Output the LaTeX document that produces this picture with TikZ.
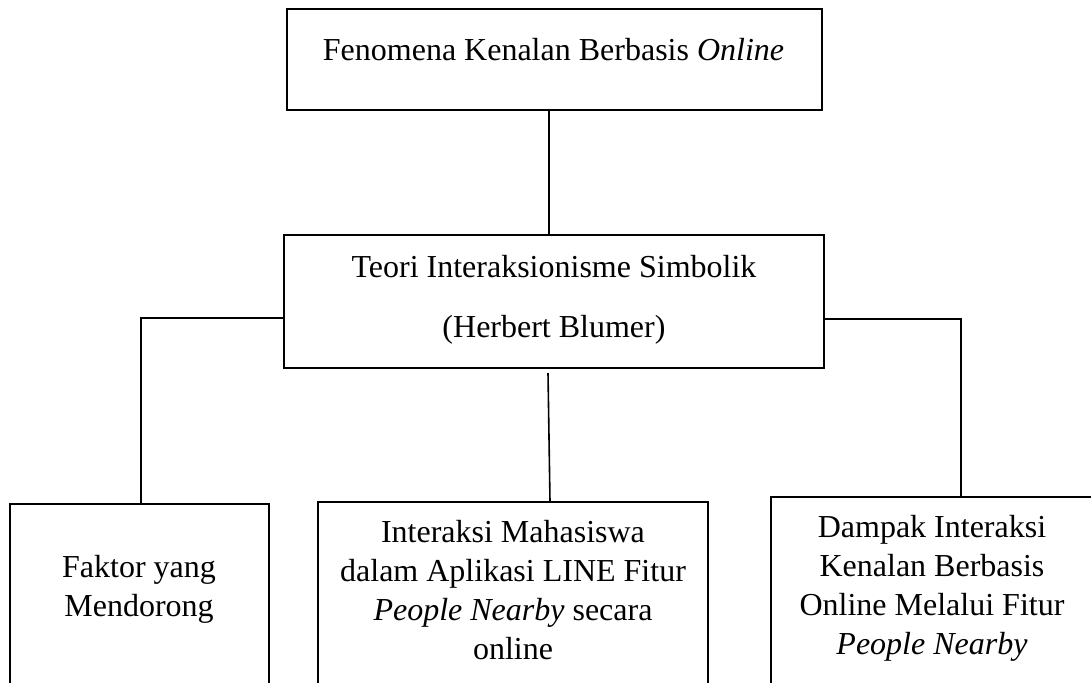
\documentclass[tikz,border=0pt]{standalone}
\usepackage{fontspec}
\setmainfont{Liberation Serif}
\begin{document}
\begin{tikzpicture}[x=1pt,y=-1pt,
  boxst/.style={draw, line width=2pt, inner sep=0pt, outer sep=0pt, anchor=north west},
  lbl/.style={anchor=north, inner sep=0pt, align=center, font=\fontsize{32}{39}\selectfont},
  conn/.style={line width=2pt},
  thinconn/.style={line width=1.6pt}]
\useasboundingbox (0,0) rectangle (1091,682);
\fill[white] (0,0) rectangle (1091,682);
\clip (0,0) rectangle (1091,682);
% boxes
\node[boxst, minimum width=535pt, minimum height=101pt] (top) at (287,9) {};
\node[boxst, minimum width=540pt, minimum height=133pt] (mid) at (284,235) {};
\node[boxst, minimum width=259pt, minimum height=250pt] (lft) at (10,504) {};
\node[boxst, minimum width=390pt, minimum height=250pt] (cen) at (318,502) {};
\node[boxst, minimum width=322pt, minimum height=250pt] (rgt) at (771,497) {};
% texts
\node[lbl] (ttop) at (553.5,32.7) {\strut Fenomena Kenalan Berbasis \textit{Online}};
\node[lbl, font=\fontsize{32}{60}\selectfont] (tmid) at (554,235) {\strut Teori Interaksionisme Simbolik\\(Herbert Blumer)};
\node[lbl] (tlft) at (139,549.7) {\strut Faktor yang\\Mendorong};
\node[lbl] (tcen) at (513,514.7) {\strut Interaksi Mahasiswa\\dalam Aplikasi LINE Fitur\\\textit{People Nearby} secara\\online};
\node[lbl] (trgt) at (932,509.7) {\strut Dampak Interaksi\\Kenalan Berbasis\\Online Melalui Fitur\\\textit{People Nearby}};
% helper coordinates
\coordinate (xa) at (549,0);
\coordinate (xb) at (550,0);
\coordinate (xl) at (141,0);
\coordinate (xr) at (961,0);
\coordinate (yl) at (0,318);
\coordinate (yr) at (0,319);
\coordinate (m1) at (548,373);
% connectors
\draw[conn] (top.south -| xa) -- (mid.north -| xa);
\draw[thinconn] (m1) -- (cen.north -| xb);
\draw[conn] (mid.west |- yl) -| (lft.north -| xl);
\draw[conn] (mid.east |- yr) -| (rgt.north -| xr);
\end{tikzpicture}
\end{document}
